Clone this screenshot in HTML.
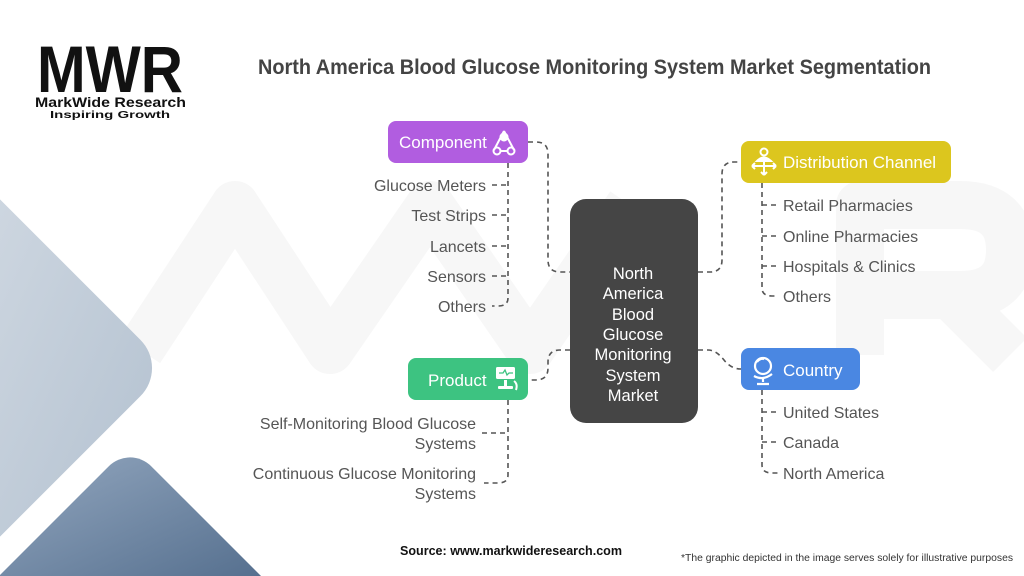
<!DOCTYPE html>
<html>
<head>
<meta charset="utf-8">
<style>
html,body{margin:0;padding:0;background:#fff;width:1024px;height:576px;overflow:hidden;}
svg{display:block;overflow:hidden;}
text{font-family:"Liberation Sans",sans-serif;}
</style>
</head>
<body>
<svg width="1024" height="576" viewBox="0 0 1024 576" xmlns="http://www.w3.org/2000/svg">
<defs>
<linearGradient id="g1" x1="0" y1="0" x2="1" y2="1">
<stop offset="0" stop-color="#cdd6e0"/>
<stop offset="1" stop-color="#b3c1d0"/>
</linearGradient>
<linearGradient id="g2" x1="0" y1="0" x2="1" y2="1">
<stop offset="0" stop-color="#93a7bf"/>
<stop offset="1" stop-color="#56708f"/>
</linearGradient>
</defs>
<rect width="1024" height="576" fill="#fff"/>

<!-- watermark -->
<g fill="none" stroke="#f7f7f7" stroke-width="48" stroke-linejoin="round" stroke-linecap="butt">
<polyline points="140,350 235,205 330,350 430,205 530,350 630,205"/>
<path d="M860,355 V205 H960 Q1010,205 1010,250 Q1010,295 960,295 H860 M950,295 L1010,355"/>
</g>

<!-- left decorative shapes -->
<path d="M0,199.4 L140.3,339.7 A40,40 0 0 1 140.3,396.3 L0,536.6 Z" fill="url(#g1)"/>
<path d="M0,576 L0,575 L108.8,466.2 A30,30 0 0 1 151.2,466.2 L261,576 Z" fill="url(#g2)"/>

<!-- logo -->
<text x="37" y="92" font-size="66" font-weight="bold" fill="#111" textLength="146" lengthAdjust="spacingAndGlyphs">MWR</text>
<text x="35" y="107" font-size="14" font-weight="bold" fill="#111" textLength="151" lengthAdjust="spacingAndGlyphs">MarkWide Research</text>
<text x="50" y="118" font-size="10.5" font-weight="bold" fill="#111" textLength="120" lengthAdjust="spacingAndGlyphs">Inspiring Growth</text>

<!-- title -->
<text x="258" y="74" font-size="21" font-weight="bold" fill="#444" textLength="673" lengthAdjust="spacingAndGlyphs">North America Blood Glucose Monitoring System Market Segmentation</text>

<!-- connectors -->
<g fill="none" stroke="#555" stroke-width="1.6" stroke-dasharray="5 4">
<path d="M528,142 H536 Q548,142 548,154 V260 Q548,272 560,272 H570"/>
<path d="M698,272 H710 Q722,272 722,260 V174 Q722,162 734,162 H741"/>
<path d="M570,350 H560 Q548,350 548,362 V368 Q548,380 536,380 H528"/>
<path d="M698,350 H708 Q716,350 724,360 Q731,369 741,369"/>

<path d="M508,163 V298 Q508,306 498,306 H492"/>
<path d="M492,185 H508 M492,215 H508 M492,246 H508 M492,276 H508"/>
<path d="M762,183 V288 Q762,296 772,296 H778"/>
<path d="M762,205 H778 M762,236 H778 M762,266 H778"/>
<path d="M508,400 V475 Q508,483 498,483 H484"/>
<path d="M482,433 H508"/>
<path d="M762,390 V465 Q762,473 772,473 H778"/>
<path d="M762,412 H778 M762,442 H778"/>
</g>

<!-- nodes -->
<rect x="388" y="121" width="140" height="42" rx="8" fill="#b15de0"/>
<text x="399" y="148" font-size="17" fill="#fff">Component</text>
<g fill="none" stroke="#fff" stroke-width="2">
<path d="M504,131 L514,150 M504,131 L494,150"/>
<circle cx="504" cy="137" r="3.5" fill="#fff"/>
<circle cx="497" cy="151" r="3.5"/>
<circle cx="511" cy="151" r="3.5"/>
<path d="M500,151 H508"/>
</g>

<rect x="741" y="141" width="210" height="42" rx="8" fill="#dcc61e"/>
<text x="783" y="168" font-size="17" fill="#fff">Distribution Channel</text>
<g fill="none" stroke="#fff" stroke-width="2">
<circle cx="764" cy="152" r="3.5"/>
<path d="M757,161 Q764,154 771,161 Z" fill="#fff"/>
<path d="M752,166 H776 M752,166 l3,-3 M752,166 l3,3 M776,166 l-3,-3 M776,166 l-3,3"/>
<path d="M764,162 V175 M764,175 l-3,-3 M764,175 l3,-3"/>
</g>

<rect x="408" y="358" width="120" height="42" rx="8" fill="#3dc381"/>
<text x="428" y="386" font-size="17" fill="#fff">Product</text>
<g>
<rect x="496" y="367" width="19" height="12" rx="1.5" fill="#fff"/>
<path d="M499,373 h4 l2,-3 l2,5 l2,-2 h4" fill="none" stroke="#3dc381" stroke-width="1.3"/>
<rect x="504" y="380" width="3" height="6" fill="#fff"/>
<rect x="498" y="386" width="15" height="3" rx="1" fill="#fff"/>
<path d="M514,381 Q518,384 516,390" fill="none" stroke="#fff" stroke-width="2"/>
</g>

<rect x="741" y="348" width="119" height="42" rx="8" fill="#4a87e2"/>
<text x="783" y="376" font-size="17" fill="#fff">Country</text>
<g fill="none" stroke="#fff" stroke-width="2.2">
<circle cx="763" cy="366" r="8"/>
<path d="M757,362 Q760,358 764,359"/>
<path d="M754,376 Q763,381 772,374"/>
<path d="M763,379 V382 M757,384 H769"/>
</g>

<!-- center -->
<rect x="570" y="199" width="128" height="224" rx="16" fill="#454545"/>
<g font-size="16.5" fill="#fff" text-anchor="middle">
<text x="633" y="279">North</text>
<text x="633" y="299">America</text>
<text x="633" y="320">Blood</text>
<text x="633" y="340">Glucose</text>
<text x="633" y="360">Monitoring</text>
<text x="633" y="381">System</text>
<text x="633" y="401">Market</text>
</g>

<g font-size="16" fill="#555" text-anchor="end">
<text x="486" y="191">Glucose Meters</text>
<text x="486" y="221">Test Strips</text>
<text x="486" y="252">Lancets</text>
<text x="486" y="282">Sensors</text>
<text x="486" y="312">Others</text>
<text x="476" y="429">Self-Monitoring Blood Glucose</text>
<text x="476" y="449">Systems</text>
<text x="476" y="479">Continuous Glucose Monitoring</text>
<text x="476" y="499">Systems</text>
</g>
<g font-size="16" fill="#555">
<text x="783" y="211">Retail Pharmacies</text>
<text x="783" y="242">Online Pharmacies</text>
<text x="783" y="272">Hospitals &amp; Clinics</text>
<text x="783" y="302">Others</text>
<text x="783" y="418">United States</text>
<text x="783" y="448">Canada</text>
<text x="783" y="479">North America</text>
</g>

<!-- footer -->
<text x="400" y="555" font-size="12.5" font-weight="bold" fill="#111" textLength="222" lengthAdjust="spacingAndGlyphs">Source: www.markwideresearch.com</text>
<text x="681" y="561" font-size="10" fill="#333" textLength="332" lengthAdjust="spacingAndGlyphs">*The graphic depicted in the image serves  solely for illustrative purposes</text>
</svg>
</body>
</html>
